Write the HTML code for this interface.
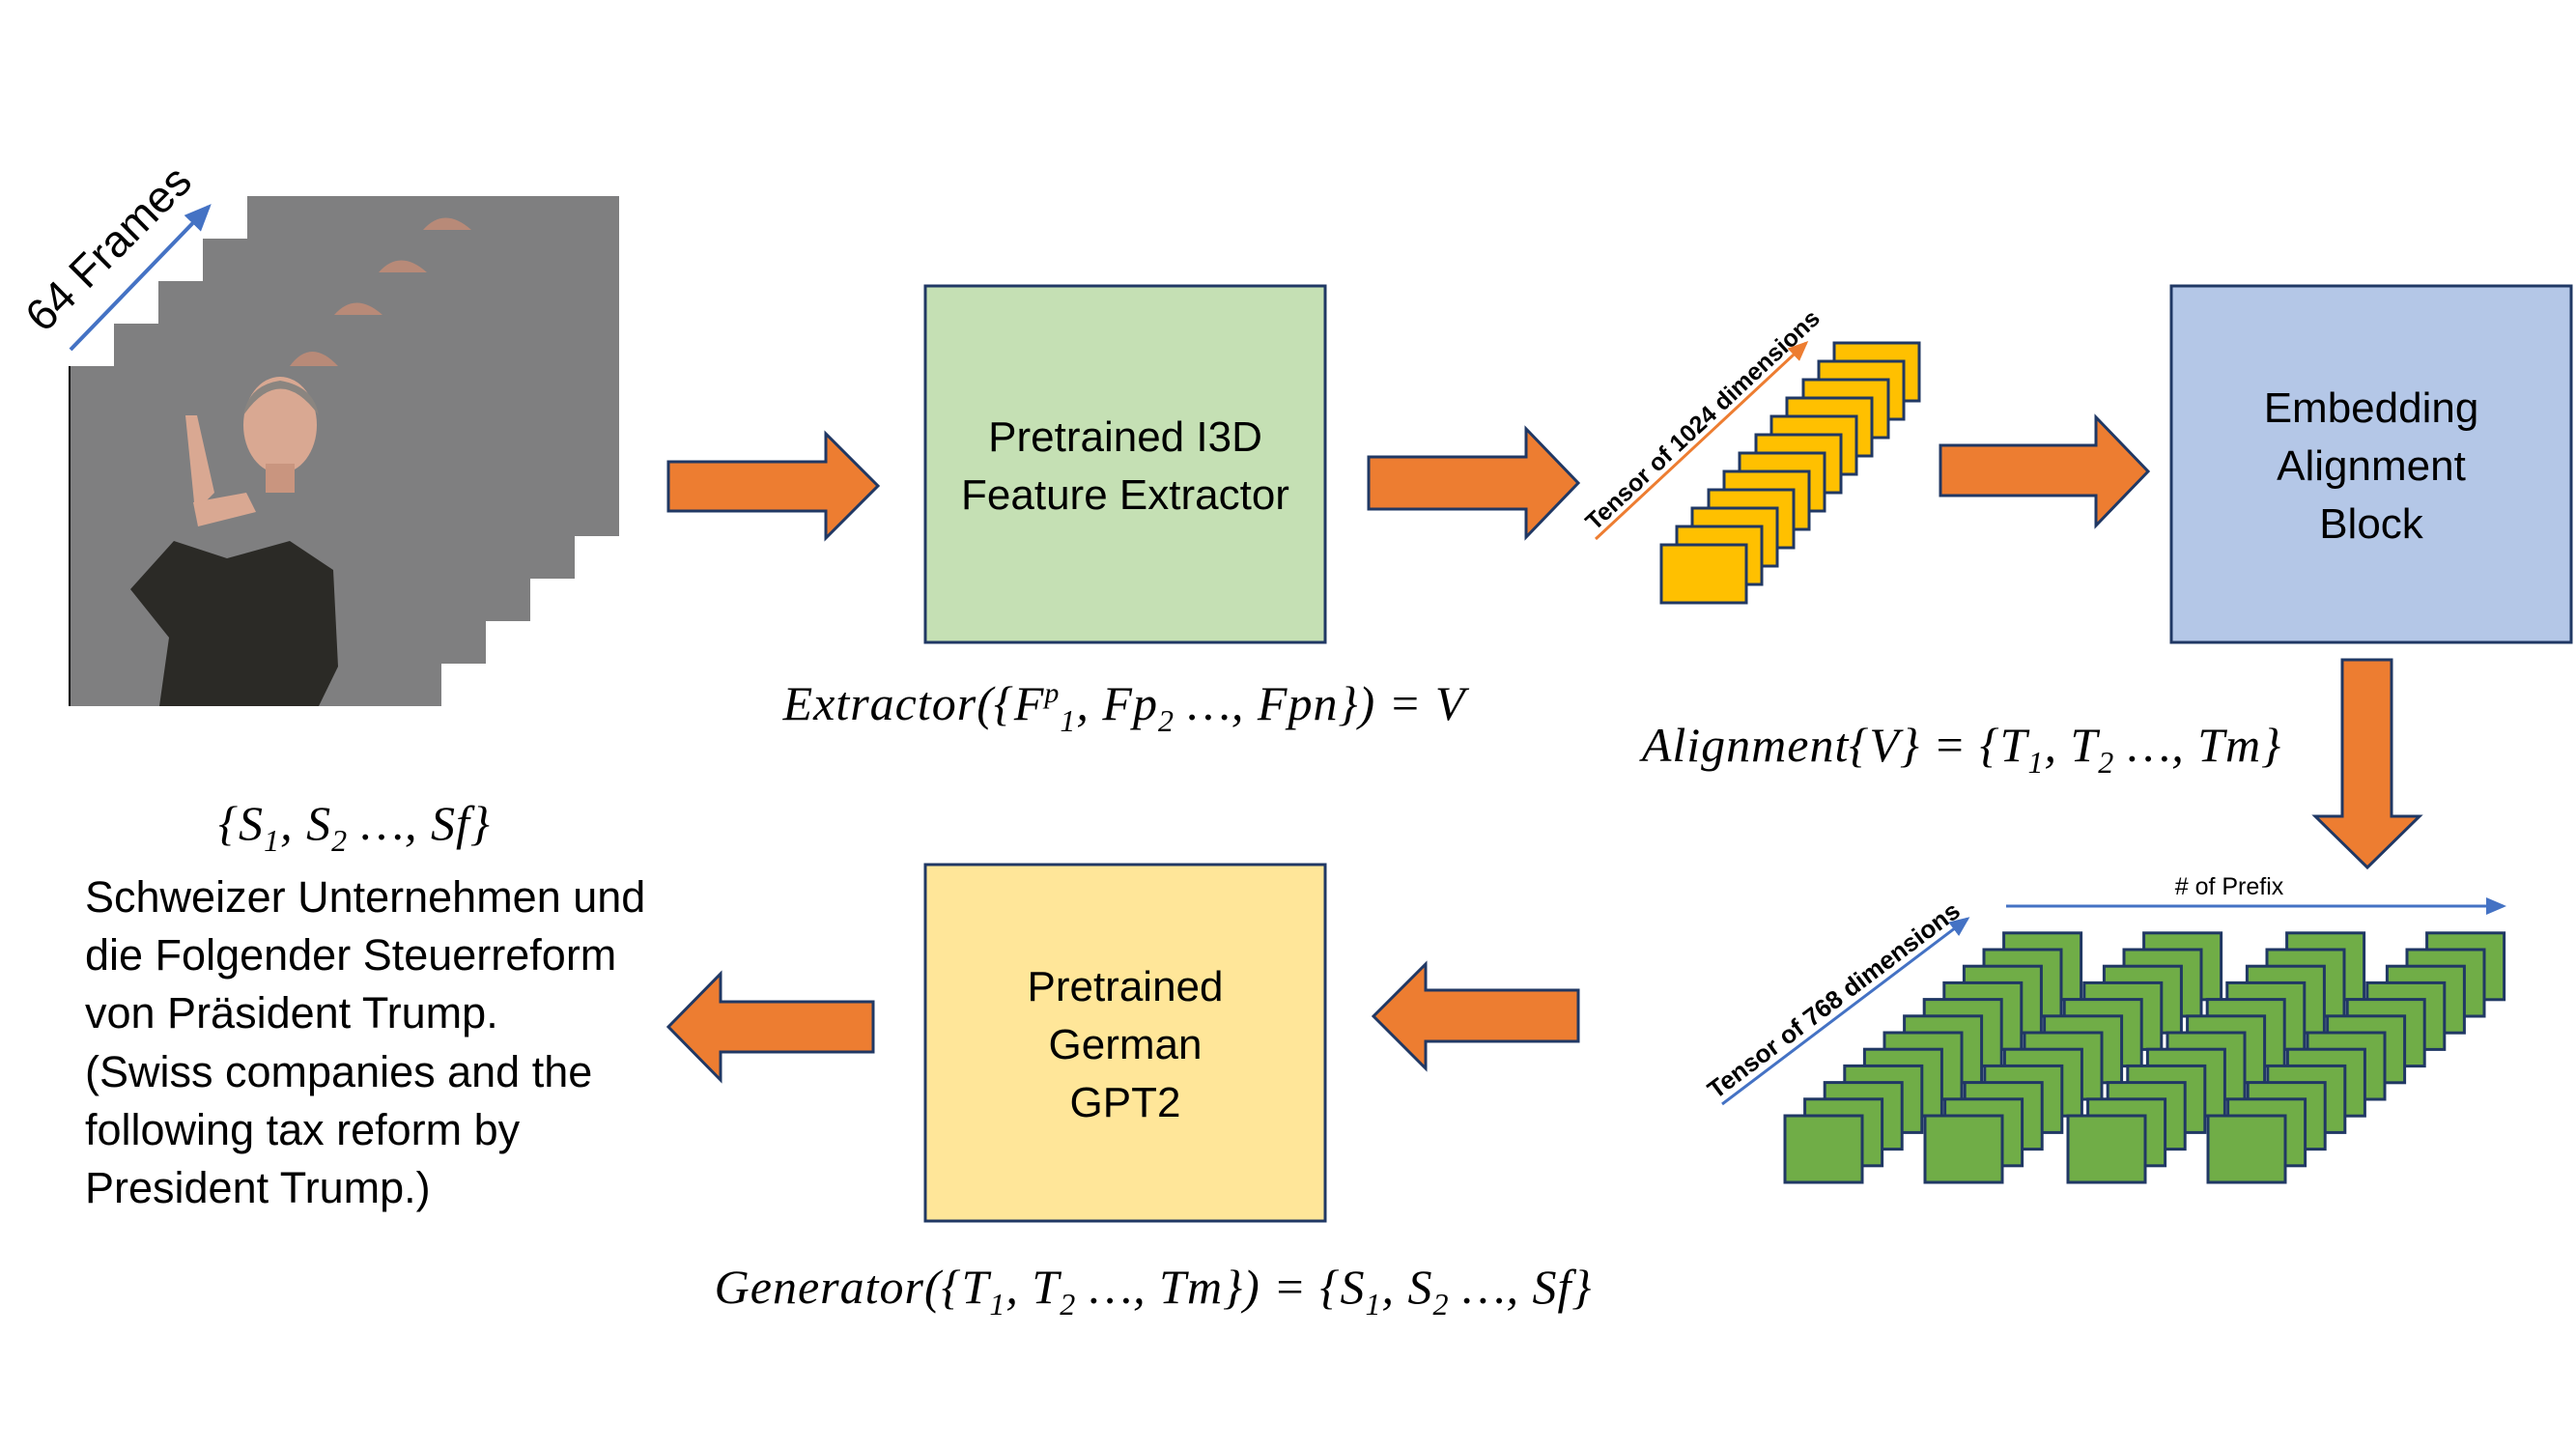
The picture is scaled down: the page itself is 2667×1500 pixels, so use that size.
<!DOCTYPE html>
<html><head><meta charset="utf-8"><style>
html,body{margin:0;padding:0;background:#fff}
svg{display:block}
.t{font-family:"Liberation Sans",sans-serif;fill:#000}
.m{font-family:"Liberation Serif",serif;font-style:italic;fill:#000}
</style></head><body>
<svg width="2667" height="1500" viewBox="0 0 2667 1500" xmlns="http://www.w3.org/2000/svg">
<defs>
<marker id="ab" markerWidth="8" markerHeight="8" refX="6" refY="4" orient="auto" markerUnits="strokeWidth"><path d="M0,1 L7,4 L0,7 z" fill="#4472C4"/></marker>
<marker id="ao" markerWidth="8" markerHeight="8" refX="6" refY="4" orient="auto" markerUnits="strokeWidth"><path d="M0,1 L7,4 L0,7 z" fill="#ED7D31"/></marker>
</defs>
<g>
<rect x="256" y="203" width="385" height="352" fill="#7f7f80"/>
<path d="M438,238 q22,-25 50,0 z" fill="#b88a78"/>
<rect x="210" y="247" width="385" height="352" fill="#7f7f80"/>
<path d="M392,282 q22,-25 50,0 z" fill="#b88a78"/>
<rect x="164" y="291" width="385" height="352" fill="#7f7f80"/>
<path d="M346,326 q22,-25 50,0 z" fill="#b88a78"/>
<rect x="118" y="335" width="385" height="352" fill="#7f7f80"/>
<path d="M300,379 q22,-30 50,0 z" fill="#b88a78"/>
<rect x="72" y="379" width="385" height="352" fill="#7f7f80"/>
<line x1="72" y1="379" x2="72" y2="731" stroke="#000" stroke-width="2"/>
<path d="M235,578 L300,560 L345,590 L350,690 L330,731 L165,731 L175,660 L135,610 L180,560 z" fill="#2b2a26"/>
<ellipse cx="290" cy="440" rx="38" ry="50" fill="#d9a892"/>
<path d="M252,430 q38,-55 78,0 q-5,-30 -40,-36 q-33,5 -38,36z" fill="#8a8580"/>
<rect x="275" y="480" width="30" height="30" fill="#c9957f"/>
<path d="M192,430 l12,0 l18,80 l-20,20 z" fill="#d9a892"/>
<path d="M200,520 l55,-10 l10,20 l-60,15z" fill="#d9a892"/>
</g>
<line x1="73" y1="362" x2="216" y2="214" stroke="#4472C4" stroke-width="4" marker-end="url(#ab)"/>
<text class="t" x="114" y="272" font-size="46" text-anchor="middle" transform="rotate(-45 114 259)">64 Frames</text>

<rect x="958" y="296" width="414" height="369" fill="#C5E0B4" stroke="#203864" stroke-width="3"/>
<text class="t" x="1165" y="467" font-size="44" text-anchor="middle">Pretrained I3D</text>
<text class="t" x="1165" y="527" font-size="44" text-anchor="middle">Feature Extractor</text>
<rect x="2248" y="296" width="414" height="369" fill="#B4C7E7" stroke="#203864" stroke-width="3"/>
<text class="t" x="2455" y="437" font-size="44" text-anchor="middle">Embedding</text>
<text class="t" x="2455" y="497" font-size="44" text-anchor="middle">Alignment</text>
<text class="t" x="2455" y="557" font-size="44" text-anchor="middle">Block</text>
<rect x="958" y="895" width="414" height="369" fill="#FFE699" stroke="#203864" stroke-width="3"/>
<text class="t" x="1165" y="1036" font-size="44" text-anchor="middle">Pretrained</text>
<text class="t" x="1165" y="1096" font-size="44" text-anchor="middle">German</text>
<text class="t" x="1165" y="1156" font-size="44" text-anchor="middle">GPT2</text>

<g fill="#ED7D31" stroke="#203864" stroke-width="3">
<path d="M692,478 L855,478 L855,449 L909,503 L855,557 L855,529 L692,529 z"/>
<path d="M1417,473 L1580,473 L1580,444 L1634,500 L1580,556 L1580,527 L1417,527 z"/>
<path d="M2009,461 L2170,461 L2170,432 L2224,488 L2170,544 L2170,513 L2009,513 z"/>
<path d="M2425,683 L2476,683 L2476,845 L2505,845 L2451,898 L2397,845 L2425,845 z"/>
<path d="M904,1037 L746,1037 L746,1008 L692,1063 L746,1118 L746,1089 L904,1089 z"/>
<path d="M1634,1025 L1476,1025 L1476,998 L1422,1052 L1476,1106 L1476,1078 L1634,1078 z"/>
</g>

<g fill="#FFC000" stroke="#203864" stroke-width="3">
<rect x="1899" y="355" width="88" height="60"/>
<rect x="1883" y="374" width="88" height="60"/>
<rect x="1867" y="393" width="88" height="60"/>
<rect x="1850" y="412" width="88" height="60"/>
<rect x="1834" y="431" width="88" height="60"/>
<rect x="1818" y="450" width="88" height="60"/>
<rect x="1801" y="469" width="88" height="60"/>
<rect x="1785" y="488" width="88" height="60"/>
<rect x="1769" y="507" width="88" height="60"/>
<rect x="1752" y="526" width="88" height="60"/>
<rect x="1736" y="545" width="88" height="60"/>
<rect x="1720" y="564" width="88" height="60"/>
</g>
<line x1="1652" y1="558" x2="1870" y2="355" stroke="#ED7D31" stroke-width="3" marker-end="url(#ao)"/>
<text class="t" x="1763" y="443" font-size="25" font-weight="bold" text-anchor="middle" transform="rotate(-43 1763 435)">Tensor of 1024 dimensions</text>

<g id="grid" fill="#70AD47" stroke="#203864" stroke-width="3"></g>
<line x1="1783" y1="1143" x2="2037" y2="951" stroke="#4472C4" stroke-width="3" marker-end="url(#ab)"/>
<text class="t" x="1899" y="1044" font-size="26" font-weight="bold" text-anchor="middle" transform="rotate(-37 1899 1036)">Tensor of 768 dimensions</text>
<line x1="2077" y1="938" x2="2592" y2="938" stroke="#4472C4" stroke-width="3" marker-end="url(#ab)"/>
<text class="t" x="2308" y="926" font-size="25" text-anchor="middle"># of Prefix</text>

<g letter-spacing="1">
<text class="m" x="1164" y="745" font-size="50" text-anchor="middle">Extractor({F<tspan font-size="30" dy="-18">p</tspan><tspan font-size="32" dy="30">1</tspan><tspan dy="-12">, Fp</tspan><tspan font-size="32" dy="12">2</tspan><tspan dy="-12"> …, Fpn}) = V</tspan></text>
<text class="m" x="2031" y="788" font-size="50" text-anchor="middle">Alignment{V} = {T<tspan font-size="32" dy="12">1</tspan><tspan dy="-12">, T</tspan><tspan font-size="32" dy="12">2</tspan><tspan dy="-12"> …, Tm}</tspan></text>
<text class="m" x="1194" y="1349" font-size="50" text-anchor="middle">Generator({T<tspan font-size="32" dy="12">1</tspan><tspan dy="-12">, T</tspan><tspan font-size="32" dy="12">2</tspan><tspan dy="-12"> …, Tm}) = {S</tspan><tspan font-size="32" dy="12">1</tspan><tspan dy="-12">, S</tspan><tspan font-size="32" dy="12">2</tspan><tspan dy="-12"> …, Sf}</tspan></text>
<text class="m" x="367" y="869" font-size="50" text-anchor="middle">{S<tspan font-size="32" dy="12">1</tspan><tspan dy="-12">, S</tspan><tspan font-size="32" dy="12">2</tspan><tspan dy="-12"> …, Sf}</tspan></text>
</g>

<g>
<text class="t" x="88" y="944" font-size="45">Schweizer Unternehmen und</text>
<text class="t" x="88" y="1004" font-size="45">die Folgender Steuerreform</text>
<text class="t" x="88" y="1064" font-size="45">von Präsident Trump.</text>
<text class="t" x="88" y="1125" font-size="45">(Swiss companies and the</text>
<text class="t" x="88" y="1185" font-size="45">following tax reform by</text>
<text class="t" x="88" y="1245" font-size="45">President Trump.)</text>
</g>
</svg>
<script>
var g=document.getElementById('grid'),s='';
var fx=[1848,1993,2141,2286];
for(var i=11;i>=0;i--){for(var c=0;c<4;c++){var x=fx[c]+i*20.6,y=1155-i*17.2;
s+='<rect x="'+x.toFixed(1)+'" y="'+y.toFixed(1)+'" width="80" height="69"/>';}}
g.innerHTML=s;
</script>
</body></html>
